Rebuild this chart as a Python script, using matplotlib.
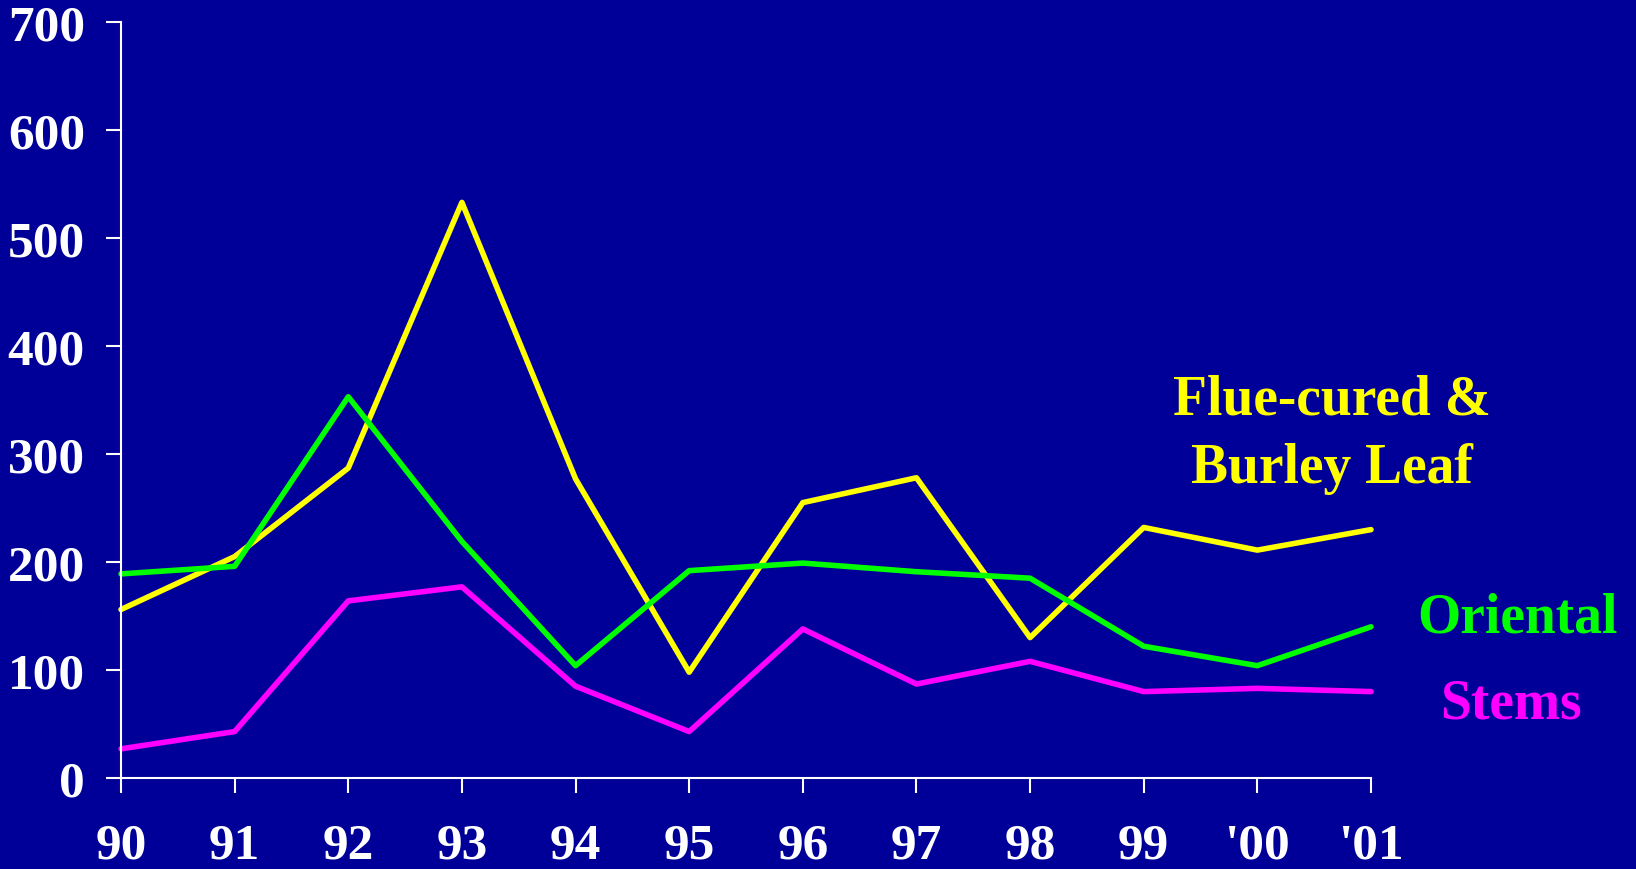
import matplotlib
matplotlib.use('agg')
import matplotlib.pyplot as plt

years = ['90', '91', '92', '93', '94', '95', '96', '97', '98', '99', "'00", "'01"]
flue_cured = [156, 205, 287, 533, 277, 98, 255, 278, 130, 232, 211, 230]
oriental = [189, 196, 353, 219, 104, 192, 199, 191, 185, 122, 104, 140]
stems = [27, 43, 164, 177, 85, 43, 138, 87, 108, 80, 83, 80]

bg = '#000099'
plt.rcParams['font.family'] = ['Liberation Serif', 'DejaVu Serif']
plt.rcParams['font.weight'] = 'bold'

fig = plt.figure(figsize=(16.36, 8.70), dpi=100, facecolor=bg)
ax = fig.add_axes([121 / 1636, 91 / 870, 1250 / 1636, 756 / 870])
ax.set_facecolor(bg)

xs = range(len(years))
ax.plot(xs, flue_cured, color='#ffff00', lw=4, solid_capstyle='round', clip_on=False)
ax.plot(xs, oriental, color='#00ff00', lw=4, solid_capstyle='round', clip_on=False)
ax.plot(xs, stems, color='#ff00ff', lw=4, solid_capstyle='round', clip_on=False)

ax.set_xlim(0, len(years) - 1)
ax.set_ylim(0, 700)
ax.set_xticks(list(xs))
ax.set_xticklabels(years)
ax.set_yticks(range(0, 701, 100))

for s in ['top', 'right']:
    ax.spines[s].set_visible(False)
for s in ['left', 'bottom']:
    ax.spines[s].set_color('white')
    ax.spines[s].set_linewidth(1.5)
ax.tick_params(colors='white', labelsize=37, length=11, width=1.5, direction='out')
ax.tick_params(axis='x', pad=21)
ax.tick_params(axis='y', pad=15)
for lab in ax.get_xticklabels() + ax.get_yticklabels():
    lab.set_fontweight('bold')

fig.text(1332 / 1636, 1 - 415 / 870, 'Flue-cured &', color='#ffff00', fontsize=40,
         fontweight='bold', ha='center', va='baseline')
fig.text(1332 / 1636, 1 - 483 / 870, 'Burley Leaf', color='#ffff00', fontsize=40,
         fontweight='bold', ha='center', va='baseline')
fig.text(1517 / 1636, 1 - 633 / 870, 'Oriental', color='#00ff00', fontsize=40,
         fontweight='bold', ha='center', va='baseline')
fig.text(1511 / 1636, 1 - 719 / 870, 'Stems', color='#ff00ff', fontsize=40,
         fontweight='bold', ha='center', va='baseline')

fig.savefig('out.png', dpi=100, facecolor=bg)
